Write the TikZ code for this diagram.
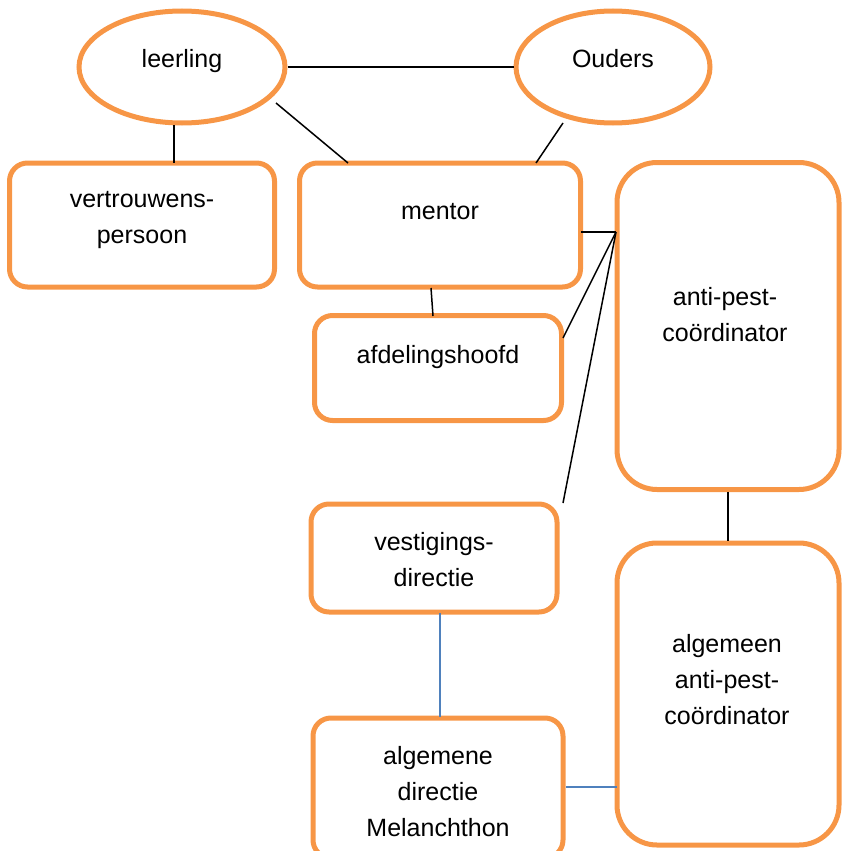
\documentclass[tikz,border=0pt]{standalone}
\usepackage{fontspec}
\setmainfont{Liberation Sans}
\usetikzlibrary{shapes.geometric}
\definecolor{orng}{HTML}{F79646}
\definecolor{blu}{HTML}{4F81BD}
\begin{document}
\begin{tikzpicture}[x=1pt,y=-1pt,
  ell/.style={draw=orng,line width=5pt,ellipse,inner sep=0pt},
  box/.style={draw=orng,line width=5pt,rounded corners=18pt,inner sep=0pt},
  tallbox/.style={draw=orng,line width=5pt,rounded corners=40pt,inner sep=0pt},
  txt/.style={font=\fontsize{25}{36}\selectfont,align=center,inner sep=0pt},
  conn/.style={line width=1.5pt,black},
  bconn/.style={line width=1.5pt,blu}]
\useasboundingbox (0,0) rectangle (842,851);
% ellipses
\node[ell,minimum width=206pt,minimum height=112pt] (leer) at (182,67) {};
\node[txt] (leerT) at (182,61) {leerling};
\node[ell,minimum width=194pt,minimum height=112pt] (oud) at (613,67) {};
\node[txt] (oudT) at (613,59) {Ouders};
% boxes
\node[box,minimum width=265pt,minimum height=124pt] (vert) at (142,225) {};
\node[txt] (vertT) at (142,220) {vertrouwens-\\persoon};
\node[box,minimum width=281pt,minimum height=124pt] (ment) at (440,225) {};
\node[txt] (mentT) at (440,212) {mentor};
\node[box,minimum width=247pt,minimum height=105pt] (afd) at (438,368) {};
\node[txt] (afdT) at (438,357) {afdelingshoofd};
\node[box,minimum width=246pt,minimum height=108pt] (vest) at (434,558) {};
\node[txt] (vestT) at (434,560) {vestigings-\\directie};
\node[box,minimum width=250pt,minimum height=140pt] (alg) at (438,788) {};
\node[txt] (algT) at (438,792) {algemene\\directie\\Melanchthon};
\node[tallbox,minimum width=222pt,minimum height=327pt] (apc) at (728,326) {};
\node[txt] (apcT) at (725,315) {anti-pest-\\coördinator};
\node[tallbox,minimum width=222pt,minimum height=302pt] (aapc) at (728,694) {};
\node[txt] (aapcT) at (727,680) {algemeen\\anti-pest-\\coördinator};
% connectors
\coordinate (hub) at (616,232);
\draw[conn] (leer.east) -- (oud.west);
\draw[conn] (174,125) -- (174,163);
\draw[conn] (276,103) -- (348,163);
\draw[conn] (563,123) -- (536,163);
\draw[conn] (431,288) -- (433,316);
\draw[conn] (581,232) -- (hub);
\draw[conn] (563,338) -- (hub);
\draw[conn] (563,503) -- (hub);
\draw[conn] (apc.south) -- (aapc.north);
\draw[bconn] (440,613) -- (440,717);
\draw[bconn] (566,787) -- (617,787);
\end{tikzpicture}
\end{document}
